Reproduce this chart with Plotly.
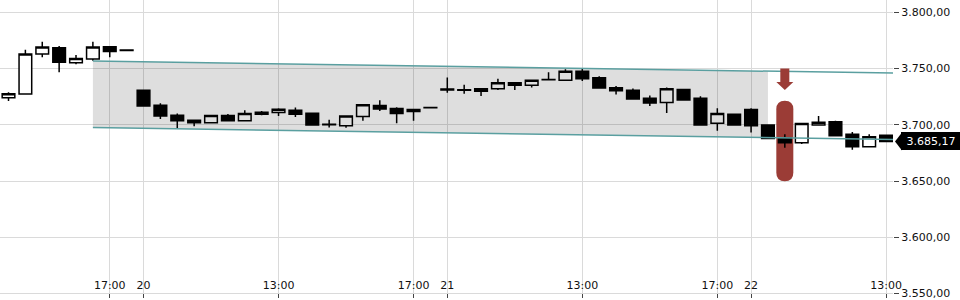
import plotly.graph_objects as go

# ---------------- data ----------------
idx = list(range(53))
opens = [3724.1, 3727.3, 3762.9, 3768.5, 3755.0, 3758.5, 3769.4, 3766.5,
         3730.6, 3717.3, 3708.5, 3704.1, 3701.7, 3708.2, 3703.5, 3711.1, 3710.9, 3712.9, 3710.3,
         3700.5, 3699.1, 3707.4, 3717.1, 3714.4, 3711.8, 3715.3,
         3731.9, 3731.2, 3729.9, 3732.1, 3737.4, 3735.2, 3740.0, 3739.6, 3747.6, 3741.8,
         3732.9, 3730.6, 3723.5, 3719.7, 3731.4, 3723.5, 3701.4, 3709.4,
         3713.5, 3699.7, 3688.2, 3684.1, 3699.9, 3702.6, 3691.5, 3680.5, 3690.6]
highs = [3728.8, 3766.7, 3773.8, 3770.0, 3762.1, 3773.8, 3769.4, 3766.6,
         3730.6, 3719.1, 3710.0, 3704.7, 3708.2, 3709.6, 3712.9, 3712.3, 3714.7, 3715.3, 3710.3,
         3704.4, 3707.9, 3717.9, 3721.7, 3715.6, 3713.5, 3715.5,
         3742.0, 3735.6, 3732.1, 3740.9, 3737.4, 3739.6, 3746.7, 3749.4, 3750.0, 3743.2,
         3734.4, 3732.3, 3726.1, 3733.2, 3731.4, 3725.3, 3714.7, 3709.4,
         3714.7, 3699.7, 3691.7, 3701.2, 3707.9, 3703.5, 3693.5, 3691.5, 3690.6]
lows = [3721.1, 3727.3, 3759.9, 3746.7, 3753.8, 3756.8, 3759.9, 3765.8,
        3716.7, 3705.2, 3696.8, 3698.8, 3701.7, 3703.5, 3703.5, 3708.5, 3707.9, 3707.0, 3699.9,
        3697.6, 3697.3, 3703.5, 3712.3, 3701.4, 3703.5, 3715.1,
        3728.5, 3727.6, 3725.5, 3730.8, 3730.8, 3733.2, 3740.0, 3739.6, 3738.8, 3732.6,
        3727.0, 3722.9, 3716.7, 3710.5, 3722.0, 3699.9, 3694.6, 3699.9,
        3693.2, 3687.9, 3679.6, 3682.9, 3699.9, 3690.2, 3677.9, 3680.5, 3685.17]
closes = [3727.6, 3762.9, 3769.1, 3755.5, 3758.8, 3769.1, 3765.2, 3765.9,
          3716.7, 3707.9, 3703.5, 3701.7, 3708.2, 3703.5, 3710.0, 3709.4, 3713.8, 3709.4, 3699.9,
          3700.1, 3707.9, 3717.9, 3714.1, 3710.0, 3713.5, 3715.2,
          3731.0, 3730.6, 3732.1, 3737.4, 3735.2, 3739.6, 3740.2, 3747.6, 3740.9, 3732.6,
          3730.3, 3722.9, 3719.4, 3732.1, 3722.0, 3699.9, 3710.0, 3699.9,
          3699.1, 3687.9, 3684.1, 3701.2, 3702.3, 3690.2, 3680.5, 3689.4, 3685.17]

tick_idx = [6, 8, 16, 24, 26, 34, 42, 44, 52]
tick_text = ["17:00", "20", "13:00", "17:00", "21", "13:00", "17:00", "22", "13:00"]
y_ticks = [3550, 3600, 3650, 3700, 3750, 3800]

channel_x = [5, 53]
channel_upper = [3756.6, 3745.8]
channel_lower = [3697.6, 3686.8]
zone_end = 45

signal_idx = 46
signal_low = 3650.0
signal_high = 3721.1
arrow_tip = 3730.8

y_range = [3546.13, 3810.85]
x_range = [-0.504, 52.41]

# ---------------- figure ----------------
def interp(x, xs, ys):
    return ys[0] + (ys[1] - ys[0]) * (x - xs[0]) / (xs[1] - xs[0])

zx = [channel_x[0], zone_end, zone_end, channel_x[0], channel_x[0]]
zy = [channel_upper[0], interp(zone_end, channel_x, channel_upper),
      interp(zone_end, channel_x, channel_lower), channel_lower[0], channel_upper[0]]

teal = "#5a9fa0"
red = "#9b3c36"
grid = "#dadada"
plot_h = 300

fig = go.Figure()
fig.add_trace(go.Scatter(x=zx, y=zy, fill="toself", fillcolor="rgba(0,0,0,0.13)",
                         line=dict(width=0), mode="lines", hoverinfo="skip", showlegend=False))
fig.add_trace(go.Scatter(x=channel_x, y=channel_upper, mode="lines",
                         line=dict(color=teal, width=1.5), showlegend=False))
fig.add_trace(go.Scatter(x=channel_x, y=channel_lower, mode="lines",
                         line=dict(color=teal, width=1.5), showlegend=False))
fig.add_trace(go.Candlestick(
    x=idx, open=opens, high=highs, low=lows, close=closes,
    increasing=dict(fillcolor="white", line=dict(color="black", width=1.5)),
    decreasing=dict(fillcolor="black", line=dict(color="black", width=1.5)),
    whiskerwidth=0, showlegend=False))

# signal pill
w, r = 8.5, 8.5
h = (signal_high - signal_low) * plot_h / (y_range[1] - y_range[0]) / 2
pill = (f"M {-w},{-(h - r)} L {-w},{h - r} Q {-w},{h} 0,{h} Q {w},{h} {w},{h - r} "
        f"L {w},{-(h - r)} Q {w},{-h} 0,{-h} Q {-w},{-h} {-w},{-(h - r)} Z")
fig.add_shape(type="path", xref="x", yref="y", xsizemode="pixel", ysizemode="pixel",
              xanchor=signal_idx, yanchor=(signal_low + signal_high) / 2,
              path=pill, fillcolor=red, line=dict(width=0), layer="between")
# arrow
arrow = "M -4.5,21.7 L 4.5,21.7 L 4.5,8 L 8.5,8 L 0,0 L -8.5,8 L -4.5,8 Z"
fig.add_shape(type="path", xref="x", yref="y", xsizemode="pixel", ysizemode="pixel",
              xanchor=signal_idx, yanchor=arrow_tip,
              path=arrow, fillcolor=red, line=dict(width=0), layer="above")

# last price label
last = closes[-1]
yfrac = (last - y_range[0]) / (y_range[1] - y_range[0])
fig.add_shape(type="path", xref="paper", yref="paper", xsizemode="pixel", ysizemode="pixel",
              xanchor=1, yanchor=yfrac, path="M 2,0 L 9,9 L 9,-9 Z",
              fillcolor="black", line=dict(width=0), layer="above")
fig.add_annotation(xref="paper", yref="paper", x=1, y=yfrac, xanchor="left", yanchor="middle",
                   xshift=8, text=f"{last:,.2f}".replace(",", "X").replace(".", ",").replace("X", "."),
                   showarrow=False, bgcolor="black", borderwidth=0, borderpad=2,
                   width=56, height=14, align="center",
                   font=dict(family="DejaVu Sans", size=11, color="white"))

fig.update_layout(
    width=960, height=300, margin=dict(l=0, r=67, t=0, b=0),
    paper_bgcolor="white", plot_bgcolor="white", separators=",.",
    boxgap=0.25, boxgroupgap=0,
    font=dict(family="DejaVu Sans", size=11, color="#111"),
    xaxis=dict(range=x_range, tickvals=tick_idx, ticktext=tick_text, showgrid=True,
               gridcolor=grid, gridwidth=1, ticks="inside", ticklen=4, tickcolor="#444",
               ticklabelposition="outside", ticklabelstandoff=-21,
               zeroline=False, showline=False,
               rangeslider=dict(visible=False), tickfont=dict(size=11)),
    yaxis=dict(range=y_range, tickvals=y_ticks, tickformat=",.2f", side="right",
               showgrid=True, gridcolor=grid, gridwidth=1, ticks="outside", ticklen=5,
               tickcolor="#444", zeroline=False, showline=False, tickfont=dict(size=11),
               ticklabeloverflow="allow"),
)
fig.write_html("out.html")
